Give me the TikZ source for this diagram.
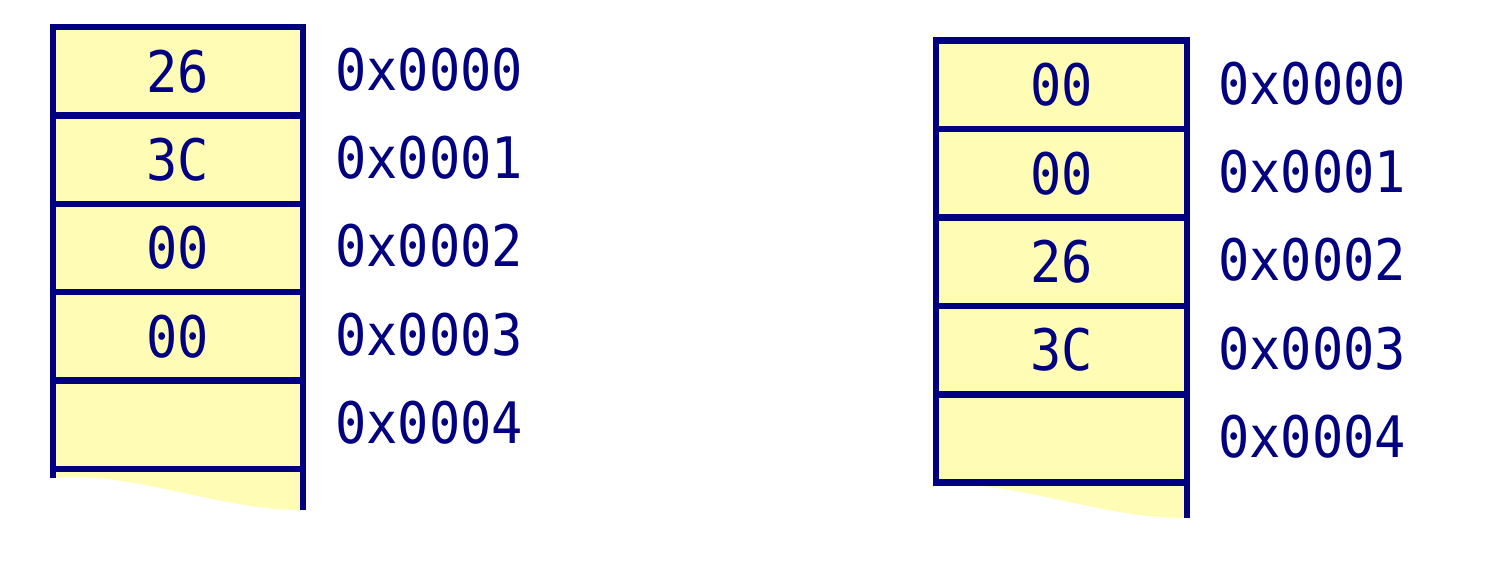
\documentclass[tikz,border=0pt]{standalone}
\usepackage{fontspec}
\usepackage{graphicx}
\newfontfamily\monof{DejaVu Sans Mono}
\definecolor{navyc}{RGB}{0,0,128}
\definecolor{cellyel}{RGB}{255,253,181}
\newcommand{\mtxt}[1]{\scalebox{1}[1.1]{#1}}
\begin{document}
\begin{tikzpicture}[x=1pt,y=-1pt,
  cellbox/.style={rectangle,draw=navyc,fill=cellyel,line width=6.5pt,inner sep=0pt,outer sep=0pt,
    minimum width=250pt,minimum height=88.4pt,text=navyc,
    font=\monof\fontsize{52}{60}\selectfont},
  addrlbl/.style={anchor=base west,inner sep=0pt,text=navyc,
    font=\monof\fontsize{52}{60}\selectfont},
  edgeline/.style={draw=navyc,line width=6.5pt}]
\useasboundingbox (0,0) rectangle (1506,560);
% left stack
\fill[cellyel] (53,469) -- (53,478) .. controls (130,470) and (225,512) .. (303,510) -- (303,469) -- cycle;
\coordinate (lbl) at (53,478);
\coordinate (lbr) at (303,510);
\node[cellbox] (L0) at (178,71.2) {\mtxt{26}};
\node[cellbox] (L1) at (178,159.6) {\mtxt{3C}};
\node[cellbox] (L2) at (178,248.0) {\mtxt{00}};
\node[cellbox] (L3) at (178,336.4) {\mtxt{00}};
\node[cellbox] (L4) at (178,424.8) {};
\draw[edgeline] (L4.south west) -- (lbl);
\draw[edgeline] (L4.south east) -- (lbr);
\node[addrlbl] (LA0) at (335,90) {\mtxt{0x0000}};
\node[addrlbl] (LA1) at (335,178.4) {\mtxt{0x0001}};
\node[addrlbl] (LA2) at (335,266.8) {\mtxt{0x0002}};
\node[addrlbl] (LA3) at (335,355.2) {\mtxt{0x0003}};
\node[addrlbl] (LA4) at (335,443.6) {\mtxt{0x0004}};
% right stack
\fill[cellyel] (936,483) -- (936,486) .. controls (1010,478) and (1105,520) .. (1187,518) -- (1187,483) -- cycle;
\coordinate (rbl) at (936,486);
\coordinate (rbr) at (1187,518);
\node[cellbox,minimum width=251pt] (R0) at (1061.5,84.9) {\mtxt{00}};
\node[cellbox,minimum width=251pt] (R1) at (1061.5,173.3) {\mtxt{00}};
\node[cellbox,minimum width=251pt] (R2) at (1061.5,261.7) {\mtxt{26}};
\node[cellbox,minimum width=251pt] (R3) at (1061.5,350.1) {\mtxt{3C}};
\node[cellbox,minimum width=251pt] (R4) at (1061.5,438.5) {};
\draw[edgeline] (R4.south west) -- (rbl);
\draw[edgeline] (R4.south east) -- (rbr);
\node[addrlbl] (RA0) at (1218,104) {\mtxt{0x0000}};
\node[addrlbl] (RA1) at (1218,192.4) {\mtxt{0x0001}};
\node[addrlbl] (RA2) at (1218,280.8) {\mtxt{0x0002}};
\node[addrlbl] (RA3) at (1218,369.2) {\mtxt{0x0003}};
\node[addrlbl] (RA4) at (1218,457.6) {\mtxt{0x0004}};
\end{tikzpicture}
\end{document}
